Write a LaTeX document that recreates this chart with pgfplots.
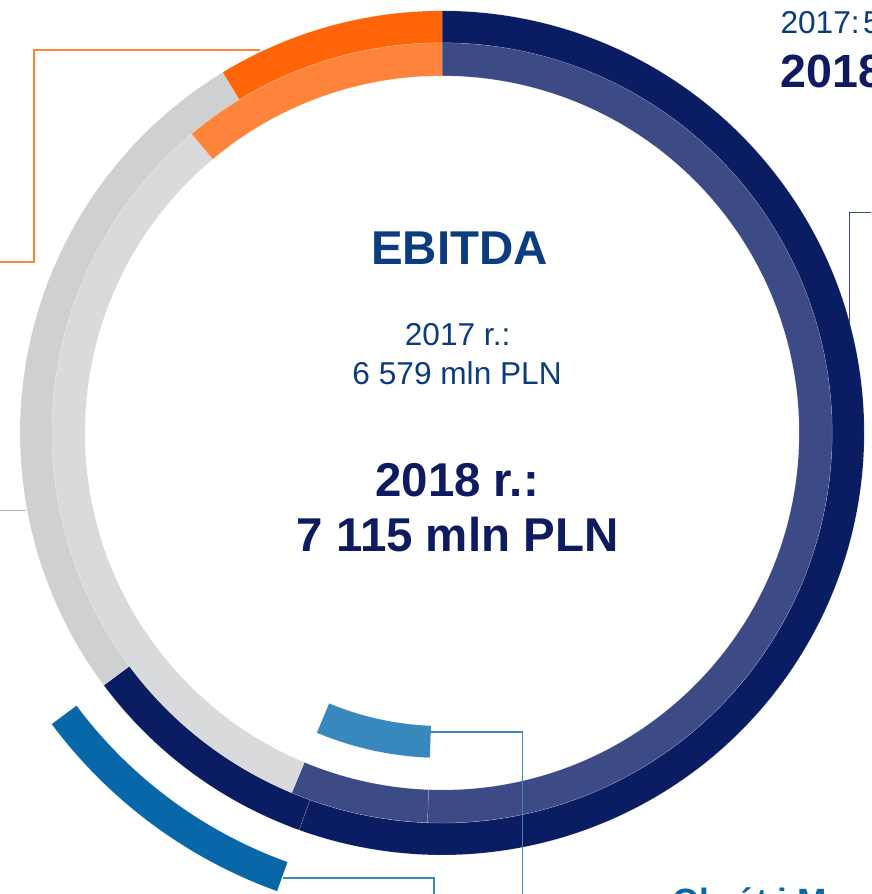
\documentclass[border=0pt]{standalone}
\usepackage{pgfplots}
\usepackage{pgfplotstable}
\pgfplotsset{compat=1.18}
\usepackage{fontspec}
\setmainfont{Liberation Sans}

\definecolor{navyA}{HTML}{0B1D62}
\definecolor{navyB}{HTML}{3C4B85}
\definecolor{orangeA}{HTML}{FF6408}
\definecolor{orangeB}{HTML}{FF843B}
\definecolor{grayA}{HTML}{CFD0D2}
\definecolor{grayB}{HTML}{D9DADC}
\definecolor{blueA}{HTML}{0767A8}
\definecolor{blueB}{HTML}{3888BD}
\definecolor{textblue}{HTML}{0B3C80}
\definecolor{textnavy}{HTML}{0E1B60}

% shares of EBITDA in %, clockwise from 12 o'clock; hl = highlighted segment
\pgfplotstableread{
share colour hl
55.5 navyA 0
9.3  navyA 1
26.5 grayA 0
8.7  orangeA 0
}\outerring % 2018
\pgfplotstableread{
share colour hl
50.6 navyB 0
5.7  navyB 1
32.6 grayB 0
11.1 orangeB 0
}\innerring % 2017

% one annular sector: start angle, end angle, inner r, outer r, colour
\newcommand{\ringseg}[5]{%
  \fill[#5, draw=white, draw opacity=0.3, line width=0.2pt]
    (axis cs:{#4*cos(#1)},{#4*sin(#1)})
    arc[start angle=#1, end angle=#2, radius=#4*0.02cm]
    -- (axis cs:{#3*cos(#2)},{#3*sin(#2)})
    arc[start angle=#2, end angle=#1, radius=#3*0.02cm] -- cycle;}

% table, r in, r out, highlight r in, highlight r out, highlight colour
\newcommand{\donut}[6]{%
  \pgfplotstablegetrowsof{#1}%
  \pgfmathtruncatemacro\lastrow{\pgfplotsretval-1}%
  \gdef\cum{0}%
  \foreach \i in {0,...,\lastrow}{%
    \pgfplotstablegetelem{\i}{share}\of{#1}\let\sh\pgfplotsretval
    \pgfplotstablegetelem{\i}{colour}\of{#1}\let\col\pgfplotsretval
    \pgfplotstablegetelem{\i}{hl}\of{#1}\let\hl\pgfplotsretval
    \pgfmathsetmacro\a{90-3.6*\cum}%
    \pgfmathsetmacro\b{90-3.6*(\cum+\sh)}%
    \edef\seg{\noexpand\ringseg{\a}{\b}{#2}{#3}{\col}}\seg
    \ifnum\hl=1
      \edef\seg{\noexpand\ringseg{\a}{\b}{#4}{#5}{#6}}\seg
    \fi
    \pgfmathsetmacro\newcum{\cum+\sh}%
    \global\let\cum\newcum
  }%
}

\newcommand{\fs}[1]{\fontsize{#1}{#1}\selectfont}

\begin{document}
\begin{tikzpicture}
\useasboundingbox (0,0) rectangle (17.42cm,17.88cm);
\clip (0,0) rectangle (17.42cm,17.88cm);
\begin{axis}[
    at={(0,0)}, anchor=south west,
    x=0.02cm, y=0.02cm,
    xmin=-442, xmax=429, ymin=-461, ymax=433,
    hide axis, clip=false]

% leader lines behind the rings
\draw[orangeB, line width=0.9pt] (axis cs:-182,383) -- (axis cs:-408,383) -- (axis cs:-408,171) -- (axis cs:-460,171);
\draw[grayA!85!black, line width=0.6pt] (axis cs:-460,-78) -- (axis cs:-416,-78);
\draw[navyB, line width=0.7pt] (axis cs:440,220) -- (axis cs:407,220) -- (axis cs:407,100);

\donut{\outerring}{390}{422}{456}{487}{blueA}
\donut{\innerring}{357}{390}{293}{325}{blueB}

% leader lines on top
\draw[blueB, line width=0.7pt] (axis cs:-12,-299) -- (axis cs:80,-299) -- (axis cs:80,-470);
\draw[blueB, line width=0.7pt] (axis cs:-159,-445) -- (axis cs:-8,-445) -- (axis cs:-8,-470);

\node[anchor=base, text=textblue, font=\fs{27}\bfseries] at (axis cs:17.5,168) {EBITDA};
\node[anchor=base, text=textblue, font=\fs{18}] at (axis cs:15.5,87.3) {2017 r.:};
\node[anchor=base, text=textblue, font=\fs{18}] at (axis cs:15,48.7) {6 579 mln PLN};
\node[anchor=base, text=textnavy, font=\fs{27}\bfseries] at (axis cs:15,-63.7) {2018 r.:};
\node[anchor=base, text=textnavy, font=\fs{27}\bfseries] at (axis cs:15.5,-118.7) {7 115 mln PLN};

\node[anchor=base west, inner sep=0pt, text=textblue, font=\fs{18}] at (axis cs:338,399) {2017:\hspace{2pt}5};
\node[anchor=base west, inner sep=0pt, text=textnavy, font=\fs{26.5}\bfseries] at (axis cs:338,345) {2018};
\node[anchor=base west, inner sep=0pt, text=blueA, font=\fs{20}\bfseries] at (axis cs:230,-480) {Obrót i Mega};
\end{axis}
\end{tikzpicture}
\end{document}
